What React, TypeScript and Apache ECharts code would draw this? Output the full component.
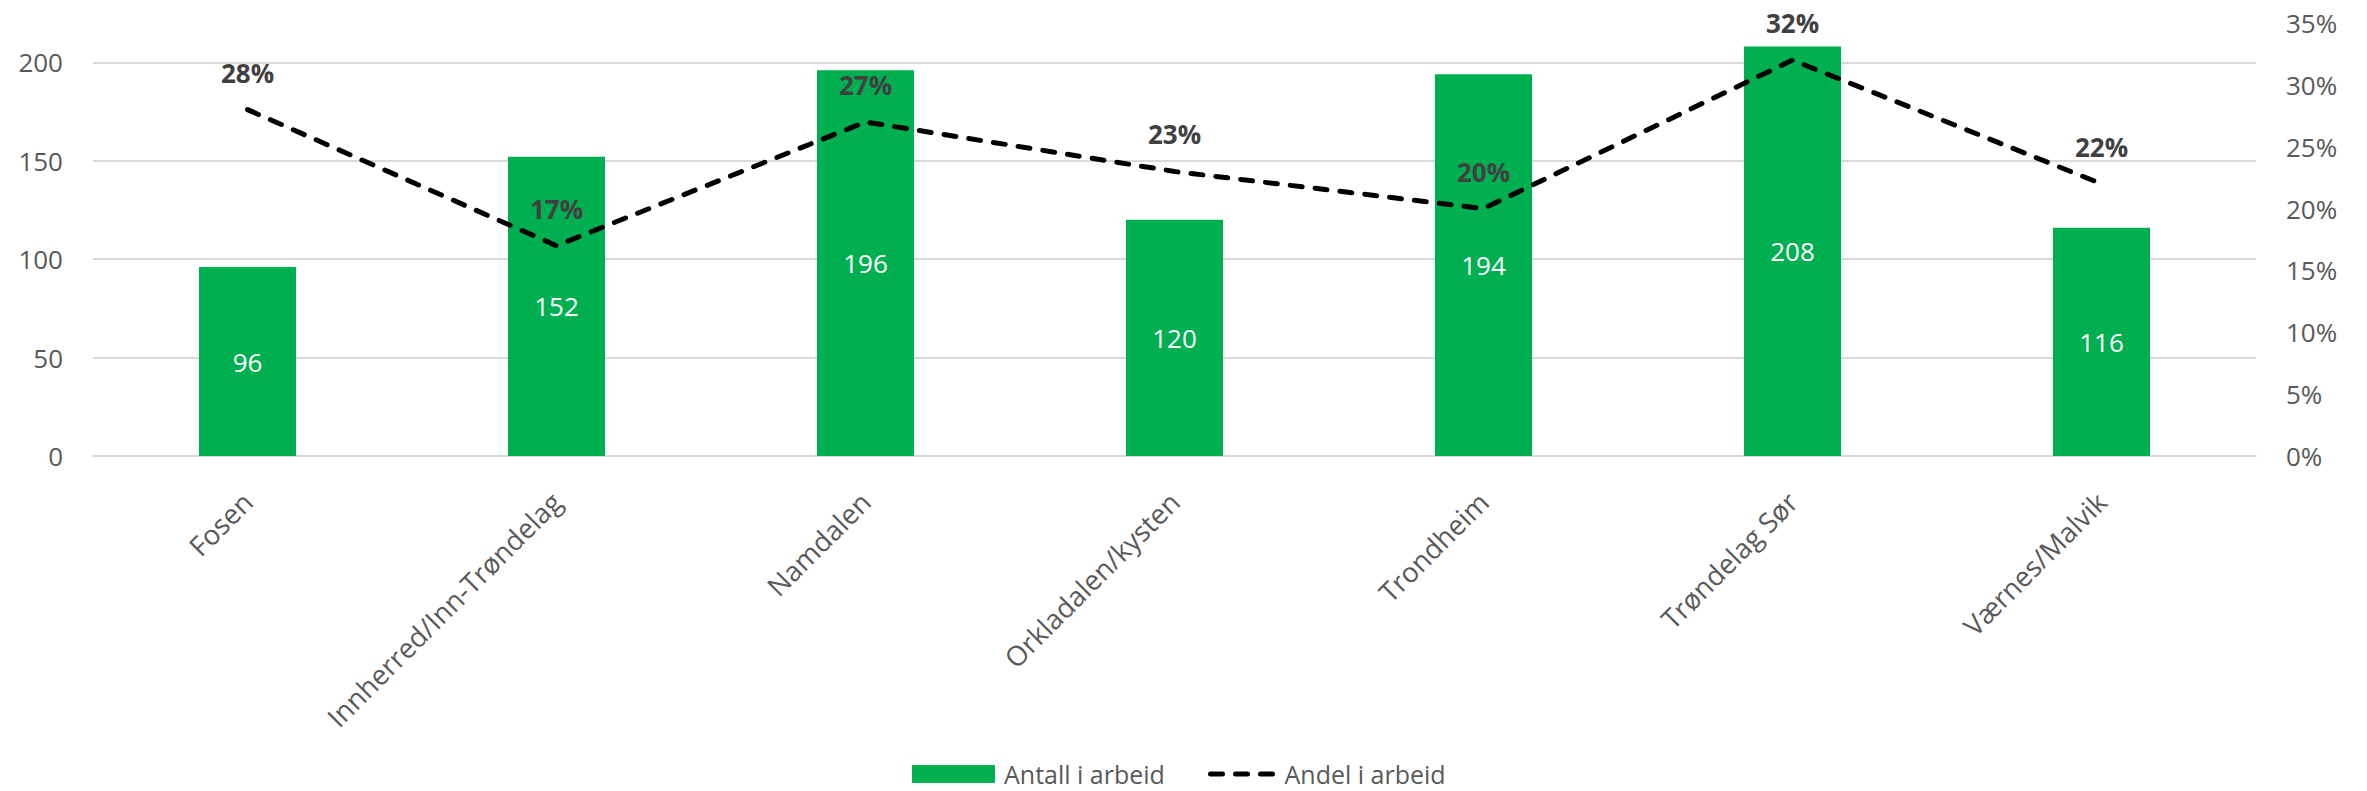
import React, { useEffect, useRef } from "react";
import * as echarts from "echarts";

const categories = [
  "Fosen",
  "Innherred/Inn-Trøndelag",
  "Namdalen",
  "Orkladalen/kysten",
  "Trondheim",
  "Trøndelag Sør",
  "Værnes/Malvik",
];
const antallIArbeid = [96, 152, 196, 120, 194, 208, 116];
const andelIArbeid = [0.28, 0.17, 0.27, 0.23, 0.2, 0.32, 0.22];
const leftAxisMax = 220;
const leftAxisInterval = 50;
const rightAxisMax = 0.35;
const rightAxisInterval = 0.05;

const FONT = "'Open Sans', sans-serif";

export default function App() {
  const ref = useRef<HTMLDivElement>(null);

  useEffect(() => {
    if (!ref.current) return;
    const chart = echarts.init(ref.current, null, { renderer: "svg" });
    chart.setOption({
      animation: false,
      backgroundColor: "#ffffff",
      textStyle: { fontFamily: FONT },
      grid: { left: 93, right: 111, top: 23, bottom: 335, containLabel: false },
      legend: [
        {
          data: [{ name: "Antall i arbeid", icon: "rect" }],
          left: 907,
          top: 756,
          itemWidth: 83,
          itemHeight: 18,
          itemGap: 0,
          textStyle: {
            fontSize: 25,
            lineHeight: 26,
            color: "#595959",
            fontFamily: FONT,
            padding: [0, 0, 0, 4],
          },
        },
        {
          data: [
            {
              name: "Andel i arbeid",
              lineStyle: { color: "#000000", width: 5, type: [12, 13], cap: "round" },
            },
          ],
          left: 1203,
          top: 756,
          itemWidth: 62,
          itemHeight: 18,
          itemGap: 0,
          itemStyle: { color: "rgba(0,0,0,0)", borderWidth: 0, borderColor: "rgba(0,0,0,0)" },
          lineStyle: { color: "#000000", width: 5, type: [12, 13], cap: "round" },
          textStyle: {
            fontSize: 25,
            lineHeight: 26,
            color: "#595959",
            fontFamily: FONT,
            padding: [0, 0, 0, 7],
          },
        },
      ],
      xAxis: {
        type: "category",
        data: categories,
        axisLine: { show: true, lineStyle: { color: "#d9d9d9", width: 2 } },
        axisTick: { show: false },
        axisLabel: {
          rotate: 45,
          interval: 0,
          margin: 41,
          fontSize: 27.5,
          color: "#595959",
          fontFamily: FONT,
        },
      },
      yAxis: [
        {
          type: "value",
          min: 0,
          max: leftAxisMax,
          interval: leftAxisInterval,
          axisLine: { show: false },
          axisTick: { show: false },
          axisLabel: {
            fontSize: 26,
            color: "#595959",
            margin: 30,
            showMaxLabel: false,
            fontFamily: FONT,
          },
          splitLine: {
            show: true,
            showMaxLine: false,
            lineStyle: { color: "#d9d9d9", width: 2 },
          },
        },
        {
          type: "value",
          min: 0,
          max: rightAxisMax,
          interval: rightAxisInterval,
          axisLine: { show: false },
          axisTick: { show: false },
          splitLine: { show: false },
          axisLabel: {
            fontSize: 26,
            color: "#595959",
            margin: 30,
            fontFamily: FONT,
            formatter: (v: number) => Math.round(v * 100) + "%",
          },
        },
      ],
      series: [
        {
          name: "Antall i arbeid",
          type: "bar",
          data: antallIArbeid,
          barWidth: "31.4%",
          itemStyle: { color: "#00B050" },
          label: {
            show: true,
            position: "inside",
            color: "#ffffff",
            fontSize: 26,
            fontFamily: FONT,
          },
        },
        {
          name: "Andel i arbeid",
          type: "line",
          yAxisIndex: 1,
          data: andelIArbeid,
          symbol: "circle",
          symbolSize: 2,
          showSymbol: true,
          lineStyle: { color: "#000000", width: 5, type: [12, 13], cap: "round" },
          itemStyle: { color: "rgba(0,0,0,0)", borderWidth: 0, borderColor: "rgba(0,0,0,0)" },
          label: {
            show: true,
            position: "top",
            distance: 23,
            color: "#404040",
            fontWeight: "bold",
            fontSize: 26,
            fontFamily: FONT,
            formatter: (p: any) => Math.round(p.value * 100) + "%",
          },
          z: 5,
        },
      ],
    });
    return () => chart.dispose();
  }, []);

  return (
    <div
      ref={ref}
      style={{ position: "absolute", left: 0, top: 0, width: 2367, height: 791 }}
    />
  );
}
